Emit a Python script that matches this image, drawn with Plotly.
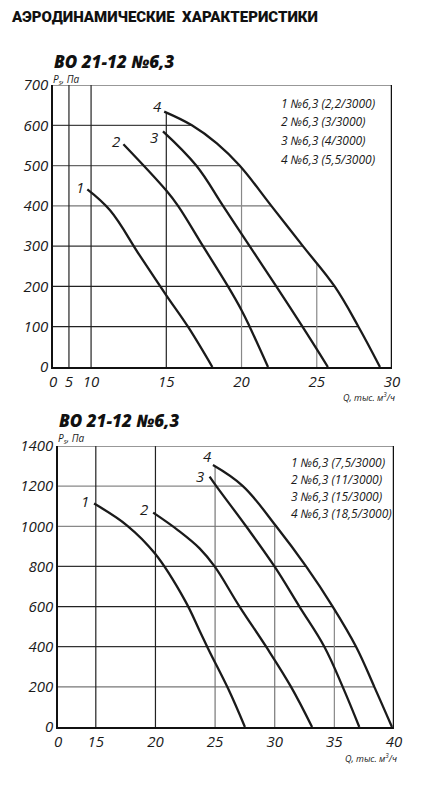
import numpy as np
import plotly.graph_objects as go

W, H = 423, 800

# ---- chart 1: BO 21-12 №6,3, low power motors ----
q1_ticks = [0, 5, 10, 15, 20, 25, 30]
p1_ticks = [0, 100, 200, 300, 400, 500, 600, 700]
legend1 = ["1 №6,3 (2,2/3000)", "2 №6,3 (3/3000)", "3 №6,3 (4/3000)", "4 №6,3 (5,5/3000)"]

c1_q = [9.15, 11.26, 13.23, 15.0, 16.44, 18.06]
c1_p = [441, 389, 277, 178, 100, 0]
c2_q = [12.15, 15.0, 15.78, 17.44, 19.1, 20.0, 20.54, 21.76]
c2_p = [553, 438, 400, 300, 200, 141, 100, 0]
c3_q = [14.78, 16.99, 18.77, 20.54, 22.31, 24.05, 25.74]
c3_p = [585, 500, 400, 300, 200, 100, 0]
c4_q = [14.86, 16.7, 18.36, 19.87, 21.98, 24.08, 26.19, 27.77, 29.2]
c4_p = [634, 600, 555, 500, 400, 300, 200, 100, 0]

# ---- chart 2: BO 21-12 №6,3, high power motors ----
q2_ticks = [0, 15, 20, 25, 30, 35, 40]
p2_ticks = [0, 200, 400, 600, 800, 1000, 1200, 1400]
legend2 = ["1 №6,3 (7,5/3000)", "2 №6,3 (11/3000)", "3 №6,3 (15/3000)", "4 №6,3 (18,5/3000)"]

d1_q = [14.3, 17.6, 19.96, 22.47, 23.7, 24.5, 26.1, 27.5]
d1_p = [1113, 1005, 864, 631, 480, 380, 190, 0]
d2_q = [19.81, 21.9, 23.7, 24.96, 27.05, 29.28, 31.37, 33.13]
d2_p = [1068, 980, 890, 800, 600, 400, 200, 0]
d3_q = [24.54, 25.1, 27.6, 29.98, 32.07, 34.16, 35.7, 37.09]
d3_p = [1247, 1200, 1000, 800, 600, 400, 200, 0]
d4_q = [24.82, 27.33, 30.12, 32.63, 34.86, 36.82, 38.35, 39.83]
d4_p = [1305, 1200, 1000, 800, 600, 400, 200, 0]

# the Q axes are broken: the start is squeezed, the rest is linear
brk1_real = [0, 5, 10, 30]
brk1_disp = [7.47, 8.53, 10, 30]
brk2_real = [0, 15, 40]
brk2_disp = [11.83, 15, 40]


def tx1(q):
    return np.interp(q, brk1_real, brk1_disp)


def tx2(q):
    return np.interp(q, brk2_real, brk2_disp)


ITAL = "Open Sans"
INK = "#1a1a1a"

fig = go.Figure()

curves1 = [(c1_q, c1_p), (c2_q, c2_p), (c3_q, c3_p), (c4_q, c4_p)]
curves2 = [(d1_q, d1_p), (d2_q, d2_p), (d3_q, d3_p), (d4_q, d4_p)]

for q, p in curves1:
    fig.add_trace(go.Scatter(x=tx1(q), y=p, mode="lines", line=dict(color=INK, width=2.3, shape="spline", smoothing=1.1),
                             xaxis="x", yaxis="y", showlegend=False, hoverinfo="skip"))
for q, p in curves2:
    fig.add_trace(go.Scatter(x=tx2(q), y=p, mode="lines", line=dict(color=INK, width=2.3, shape="spline", smoothing=1.1),
                             xaxis="x2", yaxis="y2", showlegend=False, hoverinfo="skip"))

shapes = []


def grid(xref, yref, tx, q_ticks, p_ticks, c4q, c4p, hcols, vcols, pmax, qmax):
    qd_lo = float(tx(0))
    # horizontal lines stop at the last curve
    for p, col in zip(p_ticks[1:-1], hcols):
        if p > max(c4p):
            xe = tx(qmax)
        else:
            xe = tx(np.interp(p, c4p[::-1], c4q[::-1]))
        shapes.append(dict(type="line", xref=xref, yref=yref, x0=qd_lo, x1=float(xe), y0=p, y1=p,
                           line=dict(color=col, width=1.2), layer="below"))
    # vertical lines start at the last curve
    for q, col in zip(q_ticks[1:-1], vcols):
        if q < min(c4q):
            ye = pmax
        else:
            ye = float(np.interp(q, c4q, c4p))
        shapes.append(dict(type="line", xref=xref, yref=yref, x0=float(tx(q)), x1=float(tx(q)), y0=0, y1=ye,
                           line=dict(color=col, width=1.2), layer="below"))
    # top border and heavy right border
    shapes.append(dict(type="line", xref=xref, yref=yref, x0=qd_lo, x1=float(tx(qmax)), y0=pmax, y1=pmax,
                       line=dict(color="#333", width=1.2)))
    shapes.append(dict(type="line", xref=xref, yref=yref, x0=float(tx(qmax)), x1=float(tx(qmax)),
                       y0=-pmax * 0.004, y1=pmax * 1.02, line=dict(color="#111", width=2.5)))


grid("x", "y", tx1, q1_ticks, p1_ticks, c4_q, c4_p,
     ["#222", "#222", "#333", "#777", "#666", "#444"],
     ["#222", "#222", "#222", "#888", "#888"], 700, 30)
grid("x2", "y2", tx2, q2_ticks, p2_ticks, d4_q, d4_p,
     ["#777", "#333", "#222", "#333", "#888", "#888"],
     ["#222", "#222", "#777", "#777", "#888"], 1400, 40)

ann = []


def txt(x, y, s, size, **kw):
    d = dict(x=x / W, y=1 - y / H, xref="paper", yref="paper", text=s, showarrow=False,
             font=dict(family=ITAL, size=size, color=INK, style="italic"), xanchor="left", yanchor="middle")
    d.update(kw)
    ann.append(d)


# page title
ann.append(dict(x=9 / W, y=1 - 17 / H, xref="paper", yref="paper", text="АЭРОДИНАМИЧЕСКИЕ  ХАРАКТЕРИСТИКИ",
                showarrow=False, xanchor="left", yanchor="middle",
                font=dict(family="Roboto", size=15, color="#111", weight=900)))

# chart titles
for x, y in [(53, 61), (58, 420)]:
    ann.append(dict(x=x / W, y=1 - y / H, xref="paper", yref="paper", text="ВО 21-12 №6,3", showarrow=False,
                    xanchor="left", yanchor="middle", borderpad=0,
                    font=dict(family=ITAL, size=17, color="#111", style="italic", weight=800)))

txt(52, 79, "P<sub>s</sub>, Па", 10, borderpad=0)
txt(57, 438, "P<sub>s</sub>, Па", 10, borderpad=0)
txt(397, 397, "Q, тыс. м<sup>3</sup>/ч", 9, xanchor="right")
txt(399, 758, "Q, тыс. м<sup>3</sup>/ч", 9, xanchor="right")

for i, s in enumerate(legend1):
    txt(279, 103 + i * 18.7, s, 12)
for i, s in enumerate(legend2):
    txt(289, 462 + i * 17.3, s, 12)

# curve numbers next to curve starts
off1 = [(-7, 2), (-7, 3), (-9, -6), (-7, 6)]
off2 = [(-9, 3), (-9, 4), (-10, 1), (-5, 9)]
for i, ((q, p), (dx, dy)) in enumerate(zip(curves1, off1)):
    ann.append(dict(x=float(tx1(q[0])), y=p[0], xref="x", yref="y", text=str(i + 1), showarrow=False,
                    xshift=dx, yshift=dy, font=dict(family=ITAL, size=15, color=INK, style="italic")))
for i, ((q, p), (dx, dy)) in enumerate(zip(curves2, off2)):
    ann.append(dict(x=float(tx2(q[0])), y=p[0], xref="x2", yref="y2", text=str(i + 1), showarrow=False,
                    xshift=dx, yshift=dy, font=dict(family=ITAL, size=15, color=INK, style="italic")))

tickfont = dict(family=ITAL, size=15, color=INK, style="italic")
ax = dict(showgrid=False, zeroline=False, showline=True, linecolor="#111", linewidth=1.5, ticks="",
          tickfont=tickfont, fixedrange=True, automargin=False)

fig.update_layout(
    width=W, height=H, margin=dict(l=0, r=0, t=0, b=0),
    paper_bgcolor="white", plot_bgcolor="white",
    xaxis=dict(ax, domain=[53 / W, 392 / W], range=[tx1(0), tx1(30)], tickmode="array",
               tickvals=list(tx1(q1_ticks)), ticktext=[str(t) for t in q1_ticks], anchor="y"),
    yaxis=dict(ax, domain=[1 - 367 / H, 1 - 85 / H], range=[0, 700], tickmode="array",
               tickvals=p1_ticks, anchor="x"),
    xaxis2=dict(ax, domain=[58 / W, 394 / W], range=[tx2(0), tx2(40)], tickmode="array",
                tickvals=list(tx2(q2_ticks)), ticktext=[str(t) for t in q2_ticks], anchor="y2"),
    yaxis2=dict(ax, domain=[1 - 727 / H, 1 - 446 / H], range=[0, 1400], tickmode="array",
                tickvals=p2_ticks, anchor="x2"),
    shapes=shapes, annotations=ann,
)

# the page has a default 8px body margin; drop it so the figure fills the window
fig.write_html("out.html", config={"displayModeBar": False},
               post_script="document.body.style.margin='0px';")
